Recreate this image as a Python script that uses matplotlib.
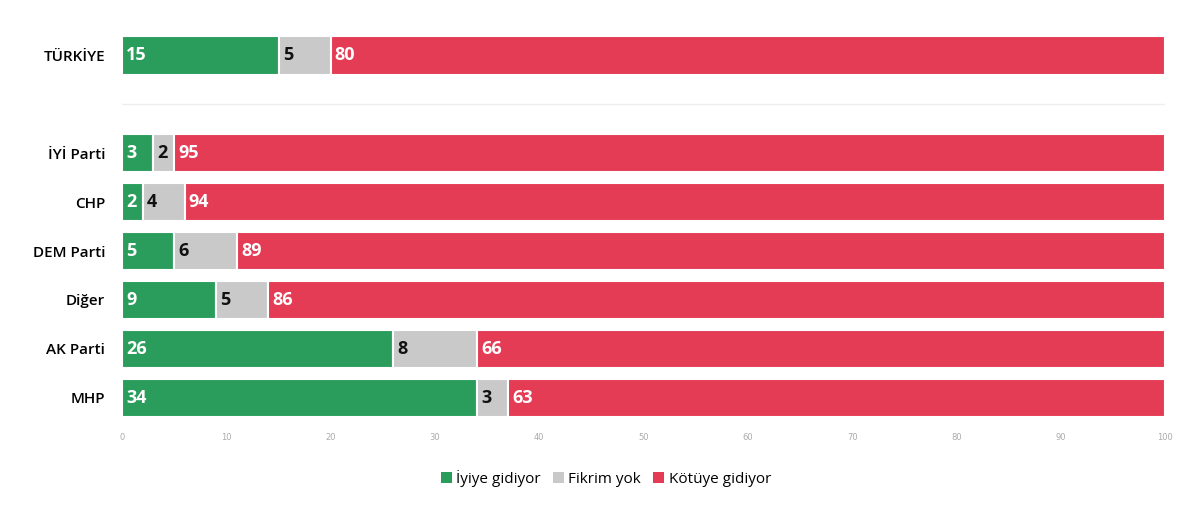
import matplotlib
matplotlib.use("Agg")
import matplotlib.pyplot as plt

categories = ["TÜRKİYE", "İYİ Parti", "CHP", "DEM Parti", "Diğer", "AK Parti", "MHP"]
positions = [0, 2, 3, 4, 5, 6, 7]
iyi = [15, 3, 2, 5, 9, 26, 34]
fikrim = [5, 2, 4, 6, 5, 8, 3]
kotu = [80, 95, 94, 89, 86, 66, 63]
series = [("İyiye gidiyor", iyi, "#2a9d5c", "white"),
          ("Fikrim yok", fikrim, "#c9c9c9", "#111111"),
          ("Kötüye gidiyor", kotu, "#e43c55", "white")]
ticks = list(range(0, 101, 10))

fig = plt.figure(figsize=(12, 5.08), dpi=100)
ax = fig.add_axes([0.1017, 0.169, 0.8693, 0.770])
left = [0] * len(categories)
for name, vals, col, tc in series:
    ax.barh(positions, vals, left=left, height=0.78, color=col, edgecolor="white",
            linewidth=1.5, label=name)
    for p, l, v in zip(positions, left, vals):
        ax.text(l + 0.4, p, str(v), va="center", ha="left", color=tc,
                fontsize=13, fontweight="bold", family="Open Sans")
    left = [a + b for a, b in zip(left, vals)]

ax.axhline(1.0, color="#eeeeee", lw=1)
ax.set_ylim(7.5, -0.5)
ax.set_xlim(0, 100)
ax.set_yticks(positions)
ax.set_yticklabels(categories, fontsize=11, family="Open Sans", fontweight="semibold")
ax.set_xticks(ticks)
ax.set_xticklabels([str(t) for t in ticks], fontsize=6, color="#aaaaaa")
ax.tick_params(length=0, pad=8)
ax.tick_params(axis="y", pad=12)
for s in ax.spines.values():
    s.set_visible(False)

leg = fig.legend(loc="center", bbox_to_anchor=(0.505, 0.059), ncol=3, frameon=False,
                 handlelength=0.7, handleheight=0.7, handletextpad=0.3, columnspacing=0.8,
                 prop={"family": "Open Sans", "size": 11})
for h in leg.legend_handles:
    h.set_edgecolor("none")
fig.savefig("out.png", dpi=100, facecolor="white")
